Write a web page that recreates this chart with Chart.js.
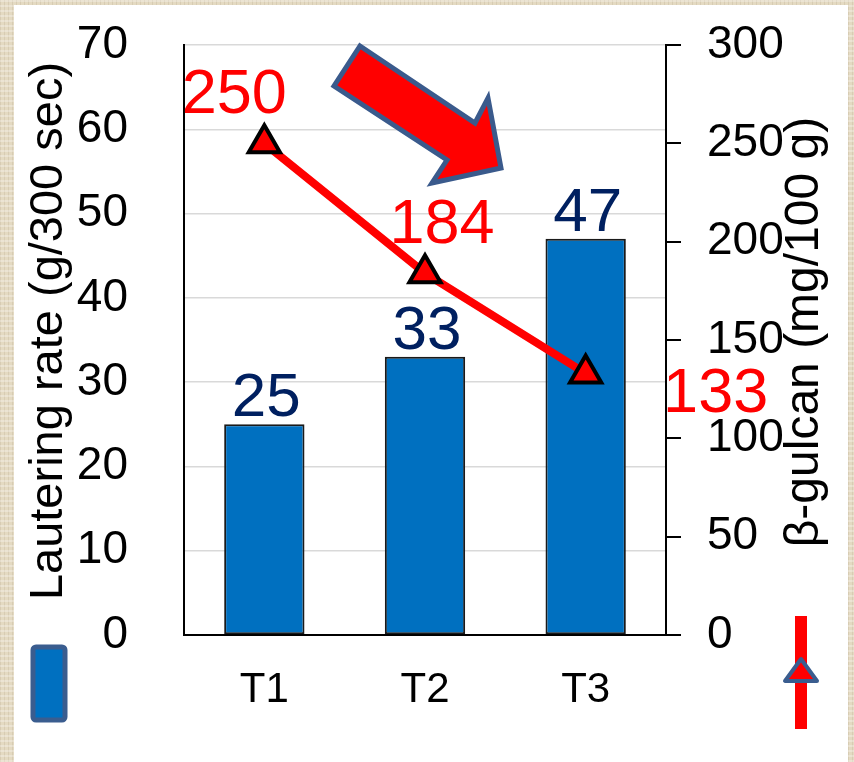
<!DOCTYPE html>
<html>
<head>
<meta charset="utf-8">
<script src="https://cdn.jsdelivr.net/npm/chart.js@4.4.1/dist/chart.umd.min.js"></script>
<style>
  body {
    margin: 0;
    width: 854px;
    height: 762px;
    overflow: hidden;
    background-color: #e4dac2;
    background-image:
      repeating-linear-gradient(0deg, rgba(255,255,255,0.28) 0 2px, transparent 2px 5px),
      repeating-linear-gradient(90deg, rgba(140,120,90,0.14) 0 1px, transparent 1px 4px);
  }
  .panel {
    position: absolute;
    left: 14px;
    top: 5px;
    width: 834px;
    height: 757px;
    background: #fff;
  }
  #chart {
    position: absolute;
    left: 0;
    top: 0;
  }
</style>
</head>
<body>
<div class="panel"></div>
<canvas id="chart" width="854" height="762"></canvas>
<script>
const categories = ['T1', 'T2', 'T3'];
const lauteringRate = [25, 33, 47];
const betaGlucan = [250, 184, 133];
const leftTicks = [0, 10, 20, 30, 40, 50, 60, 70];
const rightTicks = [0, 50, 100, 150, 200, 250, 300];

// where each β-glucan value label sits relative to its point
const lineLabelOffsets = [[-30, -30], [17, -30], [130, 39]];

const FONT = "'Liberation Sans', Arial, sans-serif";

const labelsPlugin = {
  id: 'valueLabels',
  afterDatasetsDraw(chart) {
    const ctx = chart.ctx;
    ctx.save();
    ctx.textAlign = 'center';
    ctx.textBaseline = 'alphabetic';

    const bars = chart.getDatasetMeta(0).data;
    ctx.font = '62px ' + FONT;
    ctx.fillStyle = '#002060';
    bars.forEach((bar, i) => {
      ctx.fillText(String(lauteringRate[i]), bar.x + 2, bar.y - 8);
    });

    const pts = chart.getDatasetMeta(1).data;
    ctx.font = '63px ' + FONT;
    ctx.fillStyle = '#ff0000';
    pts.forEach((pt, i) => {
      const [dx, dy] = lineLabelOffsets[i];
      ctx.fillText(String(betaGlucan[i]), pt.x + dx, pt.y + dy);
    });
    ctx.restore();
  }
};

const decorPlugin = {
  id: 'decor',
  afterDraw(chart) {
    const ctx = chart.ctx;
    const area = chart.chartArea;
    ctx.save();

    // axis titles, both reading bottom to top
    ctx.fillStyle = '#000';
    ctx.textAlign = 'center';
    ctx.textBaseline = 'alphabetic';
    ctx.save();
    ctx.font = '47px ' + FONT;
    ctx.translate(62, (area.top + area.bottom) / 2 - 9);
    ctx.rotate(-Math.PI / 2);
    ctx.fillText('Lautering rate (g/300 sec)', 0, 0);
    ctx.restore();
    ctx.save();
    ctx.font = '48px ' + FONT;
    ctx.translate(818, (area.top + area.bottom) / 2 - 8);
    ctx.rotate(-Math.PI / 2);
    ctx.fillText('\u03B2-gulcan (mg/100 g)', 0, 0);
    ctx.restore();

    // series keys under the axes
    ctx.lineJoin = 'round';
    ctx.fillStyle = '#0070c0';
    ctx.strokeStyle = '#3a5d8f';
    ctx.lineWidth = 5;
    ctx.beginPath();
    ctx.roundRect(33, 647, 32, 73, 3);
    ctx.fill();
    ctx.stroke();

    ctx.fillStyle = '#ff0000';
    ctx.fillRect(795, 616, 12, 113);
    ctx.beginPath();
    ctx.moveTo(801, 659);
    ctx.lineTo(785, 681);
    ctx.lineTo(817, 681);
    ctx.closePath();
    ctx.fill();
    ctx.lineWidth = 4;
    ctx.stroke();

    // big downward arrow
    ctx.beginPath();
    ctx.moveTo(360, 46);
    ctx.lineTo(475, 123);
    ctx.lineTo(488, 98);
    ctx.lineTo(501, 168);
    ctx.lineTo(432, 183);
    ctx.lineTo(447, 160);
    ctx.lineTo(334, 86);
    ctx.closePath();
    ctx.fillStyle = '#ff0000';
    ctx.fill();
    ctx.lineWidth = 5;
    ctx.lineJoin = 'miter';
    ctx.strokeStyle = '#3a5a8c';
    ctx.stroke();

    ctx.restore();
  }
};

// fixed axis widths; the tick padding should not push the plot down
function fixWidth(w) {
  return function (scale) {
    scale.width = w;
    scale.paddingTop = 0;
    scale.paddingBottom = 0;
  };
}

new Chart(document.getElementById('chart'), {
  type: 'bar',
  data: {
    labels: categories,
    datasets: [
      {
        type: 'bar',
        data: lauteringRate,
        yAxisID: 'y',
        backgroundColor: '#0070c0',
        borderColor: '#1a1a1a',
        borderWidth: 2,
        borderSkipped: false,
        barPercentage: 0.5,
        categoryPercentage: 1,
        order: 2
      },
      {
        type: 'line',
        data: betaGlucan,
        yAxisID: 'y1',
        borderColor: '#ff0000',
        borderWidth: 8,
        pointStyle: 'triangle',
        pointRadius: 18,
        pointBackgroundColor: '#ff0000',
        pointBorderColor: '#000',
        pointBorderWidth: 4,
        order: 1
      }
    ]
  },
  options: {
    responsive: false,
    animation: false,
    layout: { padding: { top: 45, left: 0, right: 0, bottom: 0 } },
    plugins: {
      legend: { display: false },
      tooltip: { enabled: false }
    },
    scales: {
      x: {
        grid: { display: false, drawTicks: false },
        border: { color: '#000', width: 2 },
        ticks: { color: '#000', font: { size: 42, family: FONT }, padding: 30 },
        afterFit(scale) { scale.height = 127; }
      },
      y: {
        position: 'left',
        min: 0,
        max: 70,
        afterBuildTicks(scale) { scale.ticks = leftTicks.map(v => ({ value: v })); },
        grid: { color: '#d9d9d9', lineWidth: 1.5, drawTicks: false },
        border: { color: '#000', width: 2 },
        ticks: { color: '#000', font: { size: 46, family: FONT }, padding: 56 },
        afterFit: fixWidth(184)
      },
      y1: {
        position: 'right',
        min: 0,
        max: 300,
        afterBuildTicks(scale) { scale.ticks = rightTicks.map(v => ({ value: v })); },
        grid: { drawOnChartArea: false, drawTicks: true, tickLength: 15, color: '#000', lineWidth: 2 },
        border: { color: '#000', width: 2 },
        ticks: { color: '#000', font: { size: 46, family: FONT }, padding: 26 },
        afterFit: fixWidth(188)
      }
    }
  },
  plugins: [labelsPlugin, decorPlugin]
});
</script>
</body>
</html>
